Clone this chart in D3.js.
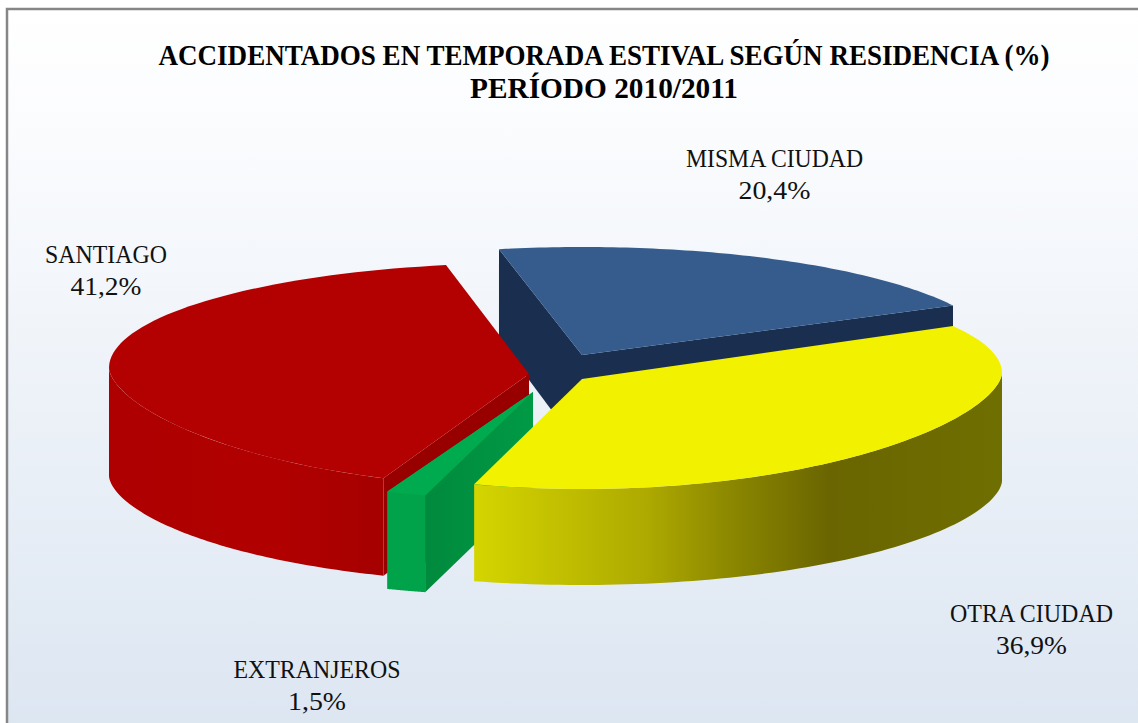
<!DOCTYPE html>
<html><head><meta charset="utf-8">
<script src="https://cdn.jsdelivr.net/npm/d3@7/dist/d3.min.js"></script>
<style>html,body{margin:0;padding:0;background:#fff}svg{display:block}text{font-family:"Liberation Serif",serif;fill:#111}</style>
</head><body><svg id="c" width="1138" height="723"></svg>
<script>
const categories = ["MISMA CIUDAD","OTRA CIUDAD","EXTRANJEROS","SANTIAGO"];
const values = [20.4,36.9,1.5,41.2];
const valueLabels = ["20,4%","36,9%","1,5%","41,2%"];
const titleLines = ["ACCIDENTADOS EN TEMPORADA ESTIVAL SEGÚN RESIDENCIA (%)","PERÍODO 2010/2011"];

const W=1138,H=723;
const svg=d3.select("#c");
const defs=svg.append("defs");
const bg=defs.append("linearGradient").attr("id","bg").attr("x1",0).attr("y1",0).attr("x2",0).attr("y2",1);
bg.append("stop").attr("offset",0).attr("stop-color","#ffffff");
bg.append("stop").attr("offset",0.15).attr("stop-color","#fbfcfe");
bg.append("stop").attr("offset",1).attr("stop-color","#dbe5f1");
svg.append("rect").attr("x",7).attr("y",9).attr("width",W+20).attr("height",H+20).attr("fill","url(#bg)").attr("stroke","#868686").attr("stroke-width",2.5);

const rad=d=>d*Math.PI/180;
const pie=d3.pie().sort(null).startAngle(rad(-11.4)).endAngle(rad(348.6));
const arcs=pie(values);
const ang=arcs.map(d=>[d.startAngle,d.endAngle]);

const Rx=420;
// exploded slice geometry: apex, rim centre height, back and front radii of the tilted disc
const layout=[
  {ax:582,ay:355,cy:357,back:110,front:116},
  {ax:582,ay:379,cy:373,back:100,front:116},
  {ax:533,ay:392,cy:385,back:105,front:115},
  {ax:529,ay:374,cy:368,back:105,front:119}
];
const dep=(u,v)=>96+12*u*u-6*Math.max(v,0);
function proj(i,a){
  const L=layout[i],u=Math.sin(a),v=Math.cos(a);
  const y=v>=0?L.cy-L.back*v:L.cy+L.front*Math.pow(-v,1.2);
  return {x:L.ax+Rx*u,y,d:dep(u,v)};
}
const line=d3.line().x(p=>p[0]).y(p=>p[1]);
const centre=i=>({x:layout[i].ax,y:layout[i].ay,d:96});
function rim(i,a0,a1){return d3.range(0,81).map(k=>proj(i,a0+(a1-a0)*k/80));}
function topFace(i,a0,a1){const c=centre(i);return line([[c.x,c.y],...rim(i,a0,a1).map(p=>[p.x,p.y])])+"Z";}
function wall(i,a){const c=centre(i),p=proj(i,a);return line([[c.x,c.y],[p.x,p.y],[p.x,p.y+p.d],[c.x,c.y+c.d]])+"Z";}
// only the near half of the rim (90..270 degrees) shows an outer side
function side(i,a0,a1){
  const r=rim(i,Math.max(a0,rad(90)),Math.min(a1,rad(270)));
  return line([...r.map(p=>[p.x,p.y]),...r.slice().reverse().map(p=>[p.x,p.y+p.d])])+"Z";
}

function hgrad(id,x1,x2,stops){
  const g=defs.append("linearGradient").attr("id",id).attr("gradientUnits","userSpaceOnUse").attr("x1",x1).attr("x2",x2).attr("y1",0).attr("y2",0);
  stops.forEach(s=>g.append("stop").attr("offset",s[0]).attr("stop-color",s[1]));
}
hgrad("ySide",477,1003,[[0,"#d4d400"],[0.32,"#aeaa00"],[0.48,"#8c8800"],[0.67,"#6a6500"],[1,"#6f6f00"]]);
hgrad("rSide",108,390,[[0,"#ae0000"],[0.6,"#b10000"],[1,"#a50000"]]);
hgrad("gWall",428,533,[[0,"#008a3d"],[1,"#009a45"]]);

const g=svg.append("g");
const P1=(d,f)=>g.append("path").attr("d",d).attr("fill",f);
// blue
P1(wall(0,ang[0][0]),"#1a2e4f");
P1(wall(0,ang[0][1]),"#1a2e4f");
P1(topFace(0,ang[0][0],ang[0][1]),"#355c8c");
// red
P1(wall(3,ang[3][0]),"#980000");
P1(side(3,ang[3][0],ang[3][1]),"url(#rSide)");
P1(topFace(3,ang[3][0],ang[3][1]),"#b30000");
// green
P1(wall(2,ang[2][1]),"#00a349");
P1(wall(2,ang[2][0]),"url(#gWall)");
P1(side(2,ang[2][0],ang[2][1]),"#00a349");
P1(topFace(2,ang[2][0],ang[2][1]),"#00ab50");
// yellow
P1(side(1,ang[1][0],ang[1][1]),"url(#ySide)");
P1(topFace(1,ang[1][0],ang[1][1]),"#f1f100");

// title
const titleWidth=[891,268];
titleLines.forEach((t,i)=>svg.append("text").attr("text-anchor","middle").attr("font-weight","bold").attr("font-size",29)
  .attr("x",604).attr("y",65+i*33).attr("textLength",titleWidth[i]).attr("lengthAdjust","spacingAndGlyphs").style("fill","#000").text(t));
// labels
const labelAt=[[774.5,167],[1031.5,622],[317,678],[106,263]];
const nameWidth=[177,163,167,122], valueWidth=[72,71,58,71];
categories.forEach((c,i)=>{
  const put=(s,y,w)=>svg.append("text").attr("text-anchor","middle").attr("font-size",26)
    .attr("x",labelAt[i][0]).attr("y",y).attr("textLength",w).attr("lengthAdjust","spacingAndGlyphs").text(s);
  put(c,labelAt[i][1],nameWidth[i]);
  put(valueLabels[i],labelAt[i][1]+32,valueWidth[i]);
});
</script></body></html>
